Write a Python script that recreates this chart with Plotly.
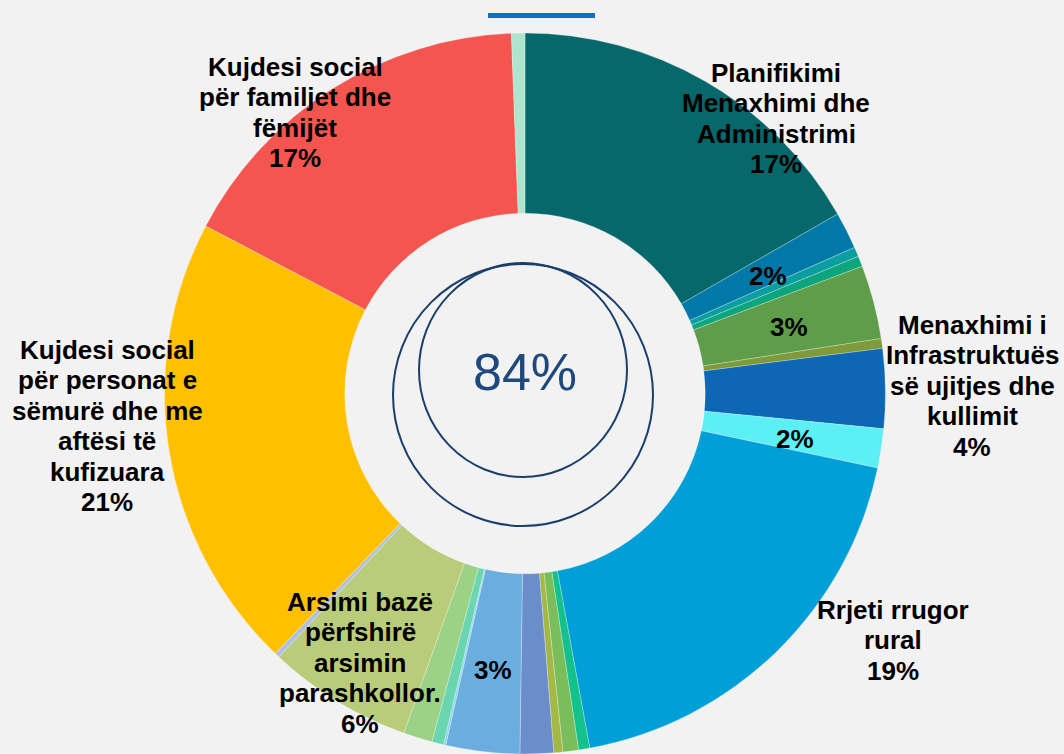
import plotly.graph_objects as go

# Budget share by function (percent), clockwise from 12 o'clock
categories = [
    "Planifikimi Menaxhimi dhe Administrimi",
    "Mbrojtja civile",
    "Zjarrfikësit",
    "Policia bashkiake",
    "Bujqësia",
    "Pyjet dhe kullotat",
    "Menaxhimi i Infrastruktuës së ujitjes dhe kullimit",
    "Ujësjellës kanalizime",
    "Rrjeti rrugor rural",
    "Transporti publik",
    "Menaxhimi i mbetjeve",
    "Ndriçimi publik",
    "Gjelbërimi",
    "Rrjeti rrugor urban",
    "Kultura",
    "Sporti",
    "Rinia",
    "Arsimi bazë përfshirë arsimin parashkollor.",
    "Arsimi i mesëm",
    "Kujdesi social për personat e sëmurë dhe me aftësi të kufizuara",
    "Kujdesi social për familjet dhe fëmijët",
    "Shëndetësia",
]
values = [16.7, 1.65, 0.43, 0.47, 3.3, 0.44, 3.56, 1.75, 18.8, 0.5, 0.7, 0.4,
          1.5, 3.3, 0.1, 0.53, 1.3, 6.5, 0.22, 20.5, 16.7, 0.6]
colors = ["#07686B", "#0078A8", "#0A9EA2", "#0CA57C", "#5E9E4B", "#7E9A3A",
          "#0D67B5", "#5CF0F5", "#009FD8", "#13C18D", "#79BE5A", "#A4B845",
          "#6B8ECB", "#6AAEDF", "#8FD0F0", "#6AD6B0", "#9BD285", "#B8CC7A",
          "#AFC0E0", "#FFC000", "#F4554F", "#AEE5CE"]

total_label = "84%"

W, H = 1064, 754
BG = "#F2F2F2"


def px(x, y):
    # pixel position -> paper coordinates
    return x / W, 1 - y / H


fig = go.Figure(go.Pie(
    labels=categories,
    values=values,
    hole=0.5,
    sort=False,
    direction="clockwise",
    rotation=0,
    textinfo="none",
    marker=dict(colors=colors, line=dict(color="rgba(255,255,255,0.45)", width=0.6)),
    domain=dict(x=[0.1546, 0.8322], y=[0, 0.9562]),
    showlegend=False,
))

# slice labels: lines, centre x, first line y (pixels)
labels = [
    (["Planifikimi", "Menaxhimi dhe", "Administrimi", "17%"], 776, 73),
    (["2%"], 768, 276),
    (["3%"], 789, 327),
    (["Menaxhimi i", "Infrastruktuës", "së ujitjes dhe", "kullimit", "4%"], 972, 325),
    (["2%"], 795, 439),
    (["Rrjeti rrugor", "rural", "19%"], 893, 610),
    (["3%"], 493, 670),
    (["Arsimi bazë", "përfshirë", "arsimin", "parashkollor.", "6%"], 360, 602),
    (["Kujdesi social", "për personat e", "sëmurë dhe me", "aftësi të",
      "kufizuara", "21%"], 107, 350),
    (["Kujdesi social", "për familjet dhe", "fëmijët", "17%"], 295, 67),
]
line_step = 30.4

annotations = []
for lines, x, y in labels:
    for i, line in enumerate(lines):
        ax, ay = px(x, y + i * line_step)
        annotations.append(dict(
            text="<b>" + line + "</b>", x=ax, y=ay, xref="paper", yref="paper",
            xanchor="center", yanchor="middle", showarrow=False,
            font=dict(family="Arial, Liberation Sans", size=26, color="#000000"),
        ))

cx, cy = px(525, 372)
annotations.append(dict(
    text=total_label, x=cx, y=cy, xref="paper", yref="paper",
    xanchor="center", yanchor="middle", showarrow=False,
    font=dict(family="Arial, Liberation Sans", size=52, color="#1F497D"),
))

shapes = []
# two outline circles in the hole
for x0, y0, x1, y1 in [(419, 263, 627, 477), (393, 264, 653, 526)]:
    a0, b1 = px(x0, y0)
    a1, b0 = px(x1, y1)
    shapes.append(dict(type="circle", xref="paper", yref="paper",
                       x0=a0, x1=a1, y0=b0, y1=b1,
                       line=dict(color="#1B3F6B", width=2)))

# short blue bar at top
a0, b1 = px(488, 13)
a1, b0 = px(595, 18)
shapes.append(dict(type="rect", xref="paper", yref="paper",
                   x0=a0, x1=a1, y0=b0, y1=b1,
                   fillcolor="#1370C6", line=dict(width=0)))

fig.update_layout(
    width=W,
    height=H,
    paper_bgcolor=BG,
    plot_bgcolor=BG,
    margin=dict(l=0, r=0, t=0, b=0),
    annotations=annotations,
    shapes=shapes,
)

fig.write_html(
    "out.html",
    config={"displayModeBar": False},
    post_script="document.body.style.margin='0';document.body.style.background='%s';" % BG,
)
